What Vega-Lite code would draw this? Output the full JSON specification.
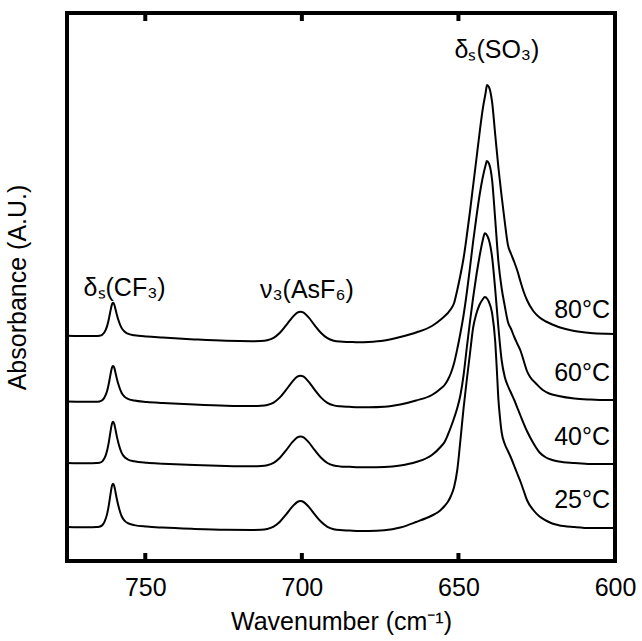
{
  "$schema": "https://vega.github.io/schema/vega-lite/v6.json",
  "width": 548,
  "height": 548,
  "autosize": {"type": "none"},
  "padding": {"left": 67, "top": 13, "right": 27, "bottom": 80},
  "background": "white",
  "config": {
    "view": {"stroke": "black", "strokeWidth": 4},
    "font": "Liberation Sans",
    "text": {"font": "Liberation Sans", "color": "black"}
  },
  "resolve": {"axis": {"x": "independent", "y": "independent"}},
  "datasets": {
    "spec": [
      {"s":"80","w":775,"a":2.292},{"s":"80","w":769.72,"a":2.290},{"s":"80","w":765.67,"a":2.289},{"s":"80","w":764.66,"a":2.292},{"s":"80","w":763.65,"a":2.305},{"s":"80","w":762.64,"a":2.352},{"s":"80","w":762.13,"a":2.396},{"s":"80","w":761.63,"a":2.460},{"s":"80","w":761.12,"a":2.541},{"s":"80","w":760.62,"a":2.608},{"s":"80","w":760.31,"a":2.622},{"s":"80","w":759.91,"a":2.605},{"s":"80","w":759.61,"a":2.570},{"s":"80","w":759.10,"a":2.505},{"s":"80","w":758.59,"a":2.450},{"s":"80","w":757.58,"a":2.371},{"s":"80","w":756.57,"a":2.332},{"s":"80","w":755.56,"a":2.313},{"s":"80","w":753.54,"a":2.298},{"s":"80","w":749.49,"a":2.284},{"s":"80","w":744.43,"a":2.274},{"s":"80","w":734.32,"a":2.256},{"s":"80","w":724.21,"a":2.242},{"s":"80","w":716.11,"a":2.238},{"s":"80","w":713.08,"a":2.240},{"s":"80","w":711.06,"a":2.248},{"s":"80","w":709.03,"a":2.271},{"s":"80","w":707.01,"a":2.322},{"s":"80","w":704.99,"a":2.398},{"s":"80","w":702.97,"a":2.479},{"s":"80","w":701.45,"a":2.524},{"s":"80","w":700.44,"a":2.533},{"s":"80","w":699.43,"a":2.524},{"s":"80","w":697.91,"a":2.478},{"s":"80","w":695.89,"a":2.396},{"s":"80","w":693.86,"a":2.320},{"s":"80","w":691.84,"a":2.268},{"s":"80","w":689.82,"a":2.243},{"s":"80","w":687.80,"a":2.234},{"s":"80","w":684.76,"a":2.230},{"s":"80","w":681.73,"a":2.227},{"s":"80","w":678.69,"a":2.230},{"s":"80","w":673.64,"a":2.245},{"s":"80","w":668.58,"a":2.280},{"s":"80","w":663.52,"a":2.325},{"s":"80","w":658.46,"a":2.390},{"s":"80","w":655.43,"a":2.460},{"s":"80","w":652.40,"a":2.560},{"s":"80","w":651.38,"a":2.620},{"s":"80","w":650.37,"a":2.750},{"s":"80","w":649.36,"a":2.900},{"s":"80","w":648.35,"a":3.070},{"s":"80","w":647.34,"a":3.290},{"s":"80","w":646.33,"a":3.530},{"s":"80","w":645.32,"a":3.790},{"s":"80","w":644.30,"a":4.050},{"s":"80","w":643.29,"a":4.310},{"s":"80","w":642.28,"a":4.550},{"s":"80","w":641.27,"a":4.730},{"s":"80","w":640.87,"a":4.800},{"s":"80","w":640.26,"a":4.780},{"s":"80","w":639.25,"a":4.630},{"s":"80","w":638.24,"a":4.300},{"s":"80","w":637.22,"a":3.970},{"s":"80","w":636.21,"a":3.690},{"s":"80","w":635.20,"a":3.430},{"s":"80","w":634.19,"a":3.200},{"s":"80","w":633.18,"a":3.110},{"s":"80","w":632.17,"a":3.030},{"s":"80","w":631.16,"a":2.940},{"s":"80","w":630.14,"a":2.830},{"s":"80","w":629.13,"a":2.730},{"s":"80","w":628.12,"a":2.650},{"s":"80","w":626.10,"a":2.540},{"s":"80","w":624.08,"a":2.475},{"s":"80","w":622.05,"a":2.435},{"s":"80","w":620.03,"a":2.405},{"s":"80","w":618.01,"a":2.380},{"s":"80","w":612.95,"a":2.340},{"s":"80","w":607.89,"a":2.320},{"s":"80","w":602.84,"a":2.312},{"s":"80","w":600,"a":2.310},

      {"s":"60","w":775,"a":1.635},{"s":"60","w":769.72,"a":1.633},{"s":"60","w":765.67,"a":1.633},{"s":"60","w":764.66,"a":1.636},{"s":"60","w":763.65,"a":1.650},{"s":"60","w":762.64,"a":1.701},{"s":"60","w":762.13,"a":1.748},{"s":"60","w":761.63,"a":1.817},{"s":"60","w":761.12,"a":1.904},{"s":"60","w":760.62,"a":1.977},{"s":"60","w":760.31,"a":1.991},{"s":"60","w":759.91,"a":1.973},{"s":"60","w":759.61,"a":1.936},{"s":"60","w":759.10,"a":1.866},{"s":"60","w":758.59,"a":1.807},{"s":"60","w":757.58,"a":1.722},{"s":"60","w":756.57,"a":1.681},{"s":"60","w":755.56,"a":1.661},{"s":"60","w":753.54,"a":1.645},{"s":"60","w":749.49,"a":1.631},{"s":"60","w":744.43,"a":1.621},{"s":"60","w":734.32,"a":1.605},{"s":"60","w":724.21,"a":1.593},{"s":"60","w":716.11,"a":1.589},{"s":"60","w":713.08,"a":1.592},{"s":"60","w":711.06,"a":1.600},{"s":"60","w":709.03,"a":1.624},{"s":"60","w":707.01,"a":1.676},{"s":"60","w":704.99,"a":1.753},{"s":"60","w":702.97,"a":1.837},{"s":"60","w":701.45,"a":1.883},{"s":"60","w":700.44,"a":1.892},{"s":"60","w":699.43,"a":1.883},{"s":"60","w":697.91,"a":1.836},{"s":"60","w":695.89,"a":1.752},{"s":"60","w":693.86,"a":1.674},{"s":"60","w":691.84,"a":1.621},{"s":"60","w":689.82,"a":1.596},{"s":"60","w":687.80,"a":1.587},{"s":"60","w":684.76,"a":1.582},{"s":"60","w":681.73,"a":1.578},{"s":"60","w":678.69,"a":1.577},{"s":"60","w":673.64,"a":1.582},{"s":"60","w":668.58,"a":1.605},{"s":"60","w":663.52,"a":1.645},{"s":"60","w":658.46,"a":1.700},{"s":"60","w":655.43,"a":1.770},{"s":"60","w":654.42,"a":1.800},{"s":"60","w":653.41,"a":1.850},{"s":"60","w":652.40,"a":1.920},{"s":"60","w":651.38,"a":2.020},{"s":"60","w":650.37,"a":2.160},{"s":"60","w":649.36,"a":2.320},{"s":"60","w":648.35,"a":2.500},{"s":"60","w":647.34,"a":2.720},{"s":"60","w":646.33,"a":2.970},{"s":"60","w":645.32,"a":3.230},{"s":"60","w":644.30,"a":3.470},{"s":"60","w":643.29,"a":3.690},{"s":"60","w":642.28,"a":3.870},{"s":"60","w":641.27,"a":4.005},{"s":"60","w":640.97,"a":4.040},{"s":"60","w":640.26,"a":4.015},{"s":"60","w":639.25,"a":3.850},{"s":"60","w":638.24,"a":3.450},{"s":"60","w":637.22,"a":3.030},{"s":"60","w":636.21,"a":2.770},{"s":"60","w":635.20,"a":2.590},{"s":"60","w":634.19,"a":2.430},{"s":"60","w":633.18,"a":2.360},{"s":"60","w":632.17,"a":2.280},{"s":"60","w":631.16,"a":2.210},{"s":"60","w":630.14,"a":2.140},{"s":"60","w":629.13,"a":2.040},{"s":"60","w":628.12,"a":1.940},{"s":"60","w":627.11,"a":1.880},{"s":"60","w":625.09,"a":1.810},{"s":"60","w":623.06,"a":1.750},{"s":"60","w":621.04,"a":1.715},{"s":"60","w":618.01,"a":1.690},{"s":"60","w":612.95,"a":1.665},{"s":"60","w":607.89,"a":1.655},{"s":"60","w":602.84,"a":1.650},{"s":"60","w":600,"a":1.650},

      {"s":"40","w":775,"a":1.019},{"s":"40","w":769.72,"a":1.018},{"s":"40","w":765.67,"a":1.019},{"s":"40","w":764.66,"a":1.022},{"s":"40","w":763.65,"a":1.039},{"s":"40","w":762.64,"a":1.097},{"s":"40","w":762.13,"a":1.152},{"s":"40","w":761.63,"a":1.231},{"s":"40","w":761.12,"a":1.332},{"s":"40","w":760.62,"a":1.415},{"s":"40","w":760.31,"a":1.432},{"s":"40","w":759.91,"a":1.411},{"s":"40","w":759.61,"a":1.369},{"s":"40","w":759.10,"a":1.289},{"s":"40","w":758.59,"a":1.221},{"s":"40","w":757.58,"a":1.124},{"s":"40","w":756.57,"a":1.077},{"s":"40","w":755.56,"a":1.055},{"s":"40","w":753.54,"a":1.037},{"s":"40","w":749.49,"a":1.022},{"s":"40","w":744.43,"a":1.013},{"s":"40","w":734.32,"a":0.999},{"s":"40","w":724.21,"a":0.990},{"s":"40","w":716.11,"a":0.987},{"s":"40","w":713.08,"a":0.990},{"s":"40","w":711.06,"a":0.998},{"s":"40","w":709.03,"a":1.022},{"s":"40","w":707.01,"a":1.073},{"s":"40","w":704.99,"a":1.149},{"s":"40","w":702.97,"a":1.231},{"s":"40","w":701.45,"a":1.277},{"s":"40","w":700.44,"a":1.286},{"s":"40","w":699.43,"a":1.277},{"s":"40","w":697.91,"a":1.231},{"s":"40","w":695.89,"a":1.148},{"s":"40","w":693.86,"a":1.072},{"s":"40","w":691.84,"a":1.020},{"s":"40","w":689.82,"a":0.995},{"s":"40","w":687.80,"a":0.986},{"s":"40","w":684.76,"a":0.982},{"s":"40","w":681.73,"a":0.977},{"s":"40","w":678.69,"a":0.977},{"s":"40","w":673.64,"a":0.980},{"s":"40","w":668.58,"a":0.995},{"s":"40","w":663.52,"a":1.030},{"s":"40","w":658.46,"a":1.100},{"s":"40","w":655.43,"a":1.190},{"s":"40","w":654.42,"a":1.230},{"s":"40","w":653.41,"a":1.300},{"s":"40","w":652.40,"a":1.380},{"s":"40","w":651.38,"a":1.470},{"s":"40","w":650.37,"a":1.570},{"s":"40","w":649.36,"a":1.700},{"s":"40","w":648.35,"a":1.900},{"s":"40","w":647.34,"a":2.170},{"s":"40","w":646.33,"a":2.430},{"s":"40","w":645.32,"a":2.670},{"s":"40","w":644.30,"a":2.890},{"s":"40","w":643.29,"a":3.080},{"s":"40","w":642.28,"a":3.240},{"s":"40","w":641.57,"a":3.317},{"s":"40","w":640.76,"a":3.290},{"s":"40","w":640.26,"a":3.250},{"s":"40","w":639.25,"a":3.080},{"s":"40","w":638.24,"a":2.750},{"s":"40","w":637.22,"a":2.370},{"s":"40","w":636.21,"a":2.050},{"s":"40","w":635.20,"a":1.880},{"s":"40","w":634.19,"a":1.790},{"s":"40","w":633.18,"a":1.720},{"s":"40","w":632.17,"a":1.650},{"s":"40","w":631.16,"a":1.570},{"s":"40","w":630.14,"a":1.490},{"s":"40","w":628.12,"a":1.340},{"s":"40","w":626.10,"a":1.220},{"s":"40","w":624.08,"a":1.125},{"s":"40","w":622.05,"a":1.075},{"s":"40","w":620.03,"a":1.050},{"s":"40","w":618.01,"a":1.035},{"s":"40","w":612.95,"a":1.020},{"s":"40","w":607.89,"a":1.010},{"s":"40","w":602.84,"a":1.010},{"s":"40","w":600,"a":1.010},

      {"s":"25","w":775,"a":0.379},{"s":"25","w":769.72,"a":0.378},{"s":"25","w":765.67,"a":0.379},{"s":"25","w":764.66,"a":0.383},{"s":"25","w":763.65,"a":0.400},{"s":"25","w":762.64,"a":0.462},{"s":"25","w":762.13,"a":0.519},{"s":"25","w":761.63,"a":0.602},{"s":"25","w":761.12,"a":0.707},{"s":"25","w":760.62,"a":0.795},{"s":"25","w":760.31,"a":0.813},{"s":"25","w":759.91,"a":0.790},{"s":"25","w":759.61,"a":0.746},{"s":"25","w":759.10,"a":0.662},{"s":"25","w":758.59,"a":0.592},{"s":"25","w":757.58,"a":0.490},{"s":"25","w":756.57,"a":0.441},{"s":"25","w":755.56,"a":0.418},{"s":"25","w":753.54,"a":0.399},{"s":"25","w":749.49,"a":0.384},{"s":"25","w":744.43,"a":0.374},{"s":"25","w":734.32,"a":0.361},{"s":"25","w":724.21,"a":0.352},{"s":"25","w":716.11,"a":0.350},{"s":"25","w":713.08,"a":0.352},{"s":"25","w":711.06,"a":0.360},{"s":"25","w":709.03,"a":0.384},{"s":"25","w":707.01,"a":0.433},{"s":"25","w":704.99,"a":0.507},{"s":"25","w":702.97,"a":0.586},{"s":"25","w":701.45,"a":0.630},{"s":"25","w":700.44,"a":0.639},{"s":"25","w":699.43,"a":0.630},{"s":"25","w":697.91,"a":0.586},{"s":"25","w":695.89,"a":0.506},{"s":"25","w":693.86,"a":0.432},{"s":"25","w":691.84,"a":0.382},{"s":"25","w":689.82,"a":0.358},{"s":"25","w":687.80,"a":0.349},{"s":"25","w":684.76,"a":0.345},{"s":"25","w":681.73,"a":0.341},{"s":"25","w":678.69,"a":0.340},{"s":"25","w":673.64,"a":0.347},{"s":"25","w":668.58,"a":0.375},{"s":"25","w":663.52,"a":0.430},{"s":"25","w":658.46,"a":0.495},{"s":"25","w":656.44,"a":0.530},{"s":"25","w":654.42,"a":0.590},{"s":"25","w":653.41,"a":0.630},{"s":"25","w":652.40,"a":0.690},{"s":"25","w":651.38,"a":0.780},{"s":"25","w":650.37,"a":0.950},{"s":"25","w":649.36,"a":1.250},{"s":"25","w":648.35,"a":1.570},{"s":"25","w":647.34,"a":1.850},{"s":"25","w":646.33,"a":2.110},{"s":"25","w":645.32,"a":2.370},{"s":"25","w":644.30,"a":2.510},{"s":"25","w":643.29,"a":2.600},{"s":"25","w":642.28,"a":2.655},{"s":"25","w":641.57,"a":2.680},{"s":"25","w":640.76,"a":2.660},{"s":"25","w":640.26,"a":2.630},{"s":"25","w":639.25,"a":2.520},{"s":"25","w":638.24,"a":2.230},{"s":"25","w":637.73,"a":1.950},{"s":"25","w":637.22,"a":1.650},{"s":"25","w":636.72,"a":1.470},{"s":"25","w":636.21,"a":1.330},{"s":"25","w":635.20,"a":1.210},{"s":"25","w":634.19,"a":1.140},{"s":"25","w":633.18,"a":1.070},{"s":"25","w":632.17,"a":0.990},{"s":"25","w":631.16,"a":0.910},{"s":"25","w":630.14,"a":0.830},{"s":"25","w":629.13,"a":0.740},{"s":"25","w":628.12,"a":0.650},{"s":"25","w":626.10,"a":0.550},{"s":"25","w":624.08,"a":0.485},{"s":"25","w":622.05,"a":0.445},{"s":"25","w":620.03,"a":0.415},{"s":"25","w":618.01,"a":0.398},{"s":"25","w":612.95,"a":0.380},{"s":"25","w":607.89,"a":0.370},{"s":"25","w":602.84,"a":0.370},{"s":"25","w":600,"a":0.370}
    ],
    "notes": [
      {"w":756.6,"a":2.77,"t":"δₛ(CF₃)"},
      {"w":698.4,"a":2.75,"t":"ν₃(AsF₆)"},
      {"w":637.7,"a":5.15,"t":"δₛ(SO₃)"}
    ],
    "temps": [
      {"w":601.6,"a":2.55,"t":"80°C"},
      {"w":601.6,"a":1.92,"t":"60°C"},
      {"w":601.6,"a":1.28,"t":"40°C"},
      {"w":601.6,"a":0.65,"t":"25°C"}
    ],
    "ticks": [
      {"w":750},{"w":700},{"w":650}
    ]
  },
  "layer": [
    {
      "data": {"name": "spec"},
      "mark": {"type": "line", "color": "black", "strokeWidth": 2, "interpolate": "monotone"},
      "encoding": {
        "x": {
          "field": "w", "type": "quantitative",
          "scale": {"domain": [600, 775], "reverse": true, "nice": false, "zero": false},
          "axis": {
            "orient": "bottom", "values": [750, 700, 650, 600], "format": "d",
            "domain": false, "grid": false, "ticks": false,
            "labelFontSize": 25, "labelColor": "black", "labelFont": "Liberation Sans",
            "labelPadding": 14, "labelFlush": false, "labelOverlap": false,
            "title": "Wavenumber (cm⁻¹)", "titleFontSize": 25, "titleFontWeight": "normal",
            "titleFont": "Liberation Sans", "titleColor": "black", "titlePadding": 9
          }
        },
        "y": {
          "field": "a", "type": "quantitative",
          "scale": {"domain": [0.04, 5.52], "nice": false, "zero": false},
          "axis": {
            "labels": false, "ticks": false, "domain": false, "grid": false,
            "title": "Absorbance (A.U.)", "titleFontSize": 25, "titleFontWeight": "normal",
            "titleFont": "Liberation Sans", "titleColor": "black", "titlePadding": 37
          }
        },
        "detail": {"field": "s"}
      }
    },
    {
      "data": {"name": "ticks"},
      "mark": {"type": "rule", "color": "black", "strokeWidth": 4},
      "encoding": {
        "x": {"field": "w", "type": "quantitative", "axis": null},
        "y": {"datum": 0.04, "type": "quantitative", "axis": null},
        "y2": {"datum": 0.12}
      }
    },
    {
      "data": {"name": "ticks"},
      "mark": {"type": "rule", "color": "black", "strokeWidth": 4},
      "encoding": {
        "x": {"field": "w", "type": "quantitative", "axis": null},
        "y": {"datum": 5.52, "type": "quantitative", "axis": null},
        "y2": {"datum": 5.44}
      }
    },
    {
      "data": {"name": "notes"},
      "mark": {"type": "text", "fontSize": 25, "align": "center", "baseline": "middle", "color": "black"},
      "encoding": {
        "x": {"field": "w", "type": "quantitative", "axis": null},
        "y": {"field": "a", "type": "quantitative", "axis": null},
        "text": {"field": "t"}
      }
    },
    {
      "data": {"name": "temps"},
      "mark": {"type": "text", "fontSize": 25, "align": "right", "baseline": "middle", "color": "black"},
      "encoding": {
        "x": {"field": "w", "type": "quantitative", "axis": null},
        "y": {"field": "a", "type": "quantitative", "axis": null},
        "text": {"field": "t"}
      }
    }
  ]
}
